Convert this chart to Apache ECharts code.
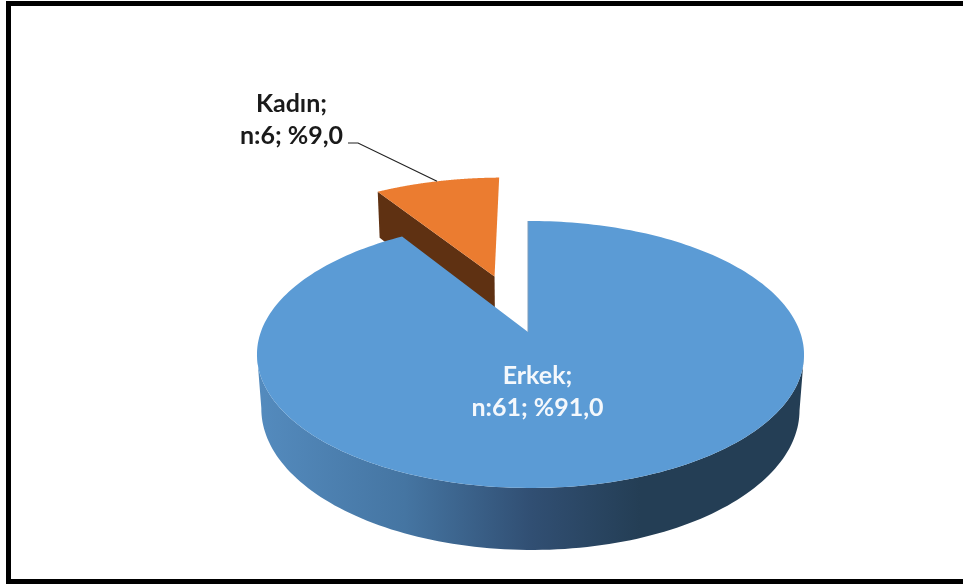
<!DOCTYPE html>
<html>
<head>
<meta charset="utf-8">
<style>html,body{margin:0;padding:0;background:#fff}#chart{width:963px;height:584px}</style>
<script src="https://cdn.jsdelivr.net/npm/echarts@6/dist/echarts.min.js"></script>
</head>
<body>
<div id="chart"></div>
<script>
// Gender split of the sample
var categories = ['Erkek', 'Kadın'];
var counts = [61, 6];
var percents = [91.0, 9.0];
var topColors = ['#5B9BD5', '#EB7C30'];

// Camera constants for the tilted disc: (u, v) lies in the disc plane, z is 0 on top, 1 on the base
var CENTER_X = 528, CENTER_Y = 332;
var SCALE_X = 269.6, SCALE_Y = 129.7, DEPTH = 55;
var TILT = 0.1685, SKEW = 0.009, SHRINK = 0.016;
var EXPLODE = 0.48, EXPLODED_RADIUS = 1.03;

function project(u, v, z) {
  var w = 1 - TILT * v - SKEW * u + SHRINK * z;
  return [CENTER_X + SCALE_X * u / w, CENTER_Y + (SCALE_Y * v + DEPTH * z) / w];
}

// Slices start at 12 o'clock and run clockwise
function sliceAngles(index) {
  var before = 0;
  for (var i = 0; i < index; i++) before += percents[i];
  return [before / 100 * 2 * Math.PI, (before + percents[index]) / 100 * 2 * Math.PI];
}

function rim(a, b, z, ou, ov, r) {
  var pts = [], n = 240;
  for (var i = 0; i <= n; i++) {
    var t = a + (b - a) * i / n;
    pts.push(project(r * Math.sin(t) + ou, -r * Math.cos(t) + ov, z));
  }
  return pts;
}

// Index of the rim point furthest along x, in the direction given by sign
function extreme(pts, sign) {
  var best = 0;
  pts.forEach(function (p, i) { if (sign * p[0] > sign * pts[best][0]) best = i; });
  return best;
}

function renderSlice(params, api) {
  var index = params.dataIndex;
  var a = sliceAngles(index), mid = (a[0] + a[1]) / 2;
  var exploded = index === 1;
  var r = exploded ? EXPLODED_RADIUS : 1;
  var ou = exploded ? EXPLODE * Math.sin(mid) : 0;
  var ov = exploded ? -EXPLODE * Math.cos(mid) : 0;
  var top = rim(a[0], a[1], 0, ou, ov, r);
  var base = rim(a[0], a[1], 1, ou, ov, r);
  var apex = project(ou, ov, 0), apexBase = project(ou, ov, 1);
  var z2 = exploded ? 1 : 10;
  var children = [];

  if (exploded) {
    // Cut face turned towards the viewer
    children.push({
      type: 'polygon', z2: z2,
      shape: { points: [apex, top[0], base[0], apexBase] },
      style: { fill: '#5F3112' }
    });
  } else {
    // Curved outer wall, front half only, so its sides run straight between the rims
    var from = extreme(top, 1), to = extreme(top, -1);
    var wall = top.slice(from, to + 1).concat(base.slice(from, to + 1).reverse());
    children.push({
      type: 'polygon', z2: z2,
      shape: { points: wall },
      style: {
        fill: new echarts.graphic.LinearGradient(0, 0, 1, 0, [
          { offset: 0, color: '#548BBE' },
          { offset: 0.27, color: '#4575A2' },
          { offset: 0.5, color: '#314F73' },
          { offset: 0.7, color: '#243E55' },
          { offset: 1, color: '#243E55' }
        ])
      }
    });
  }
  children.push({
    type: 'polygon', z2: z2 + 1,
    shape: { points: [apex].concat(top) },
    style: { fill: topColors[index] }
  });
  if (!exploded) {
    children.push({
      type: 'line', z2: z2 + 2,
      shape: { x1: apex[0], y1: apex[1], x2: top[0][0], y2: top[0][1] },
      style: { stroke: '#7C9CBB', lineWidth: 1 }
    });
  }
  if (exploded) {
    // Leader from the rim of the slice to its label
    var anchor = project(r * Math.sin(mid) + ou, -r * Math.cos(mid) + ov, 0);
    children.push({
      type: 'polyline', z2: 30,
      shape: { points: [[348, 143], [358, 143], anchor] },
      style: { stroke: '#222222', lineWidth: 1.2, fill: null }
    });
  }
  var labelPos = exploded ? [291.5, 120] : [537.5, 392];
  children.push({
    type: 'text', z2: 40,
    x: labelPos[0], y: labelPos[1],
    style: {
      text: categories[index] + ';\nn:' + counts[index] + '; %' + percents[index].toFixed(1).replace('.', ','),
      font: 'bold 25px Lato, sans-serif',
      lineHeight: 32,
      fill: exploded ? '#1A1A1A' : '#F4F8FC',
      align: 'center', verticalAlign: 'middle'
    }
  });
  return { type: 'group', children: children };
}

var chart = echarts.init(document.getElementById('chart'), null, { renderer: 'canvas' });
chart.setOption({
  animation: false,
  backgroundColor: '#ffffff',
  graphic: [
    { type: 'rect', silent: true, z: 100, shape: { x: 6, y: 1, width: 970, height: 5 }, style: { fill: '#000' } },
    { type: 'rect', silent: true, z: 100, shape: { x: 6, y: 1, width: 5, height: 583 }, style: { fill: '#000' } },
    { type: 'rect', silent: true, z: 100, shape: { x: 6, y: 579, width: 970, height: 5 }, style: { fill: '#000' } }
  ],
  series: [{
    type: 'custom',
    coordinateSystem: 'none',
    silent: true,
    clip: false,
    data: percents.map(function (p) { return [p]; }),
    renderItem: renderSlice
  }]
});
</script>
</body>
</html>
